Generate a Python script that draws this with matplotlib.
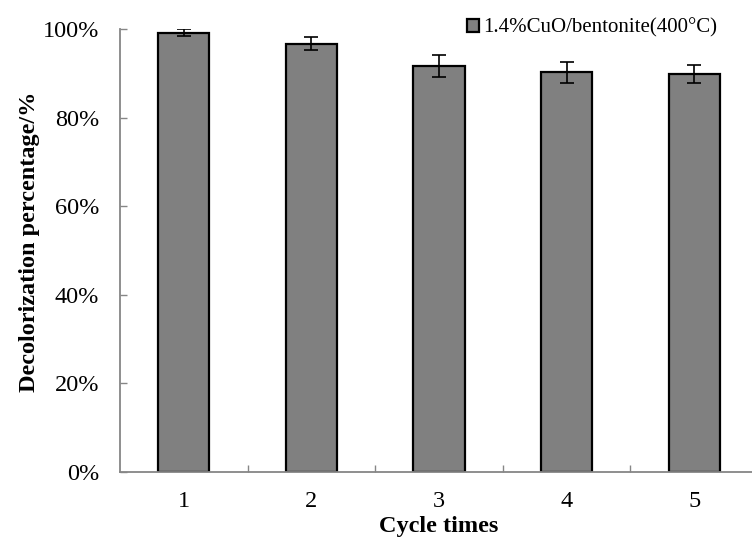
import matplotlib
matplotlib.use("Agg")
import matplotlib.pyplot as plt
import numpy as np
from matplotlib.ticker import FixedLocator, PercentFormatter

plt.rcParams["font.family"] = ["Liberation Serif", "DejaVu Serif"]
plt.rcParams["mathtext.fontset"] = "stix"

cycles = ["1", "2", "3", "4", "5"]
decolorization = [99.2, 96.7, 91.7, 90.2, 89.8]
errors = [0.8, 1.4, 2.45, 2.4, 2.1]
series_name = "1.4%CuO/bentonite(400\u00b0C)"

axis_grey = "#868686"
text_size = 17.5

fig = plt.figure(figsize=(7.52, 5.38), dpi=100)
ax = fig.add_axes([0.1596, 0.1227, 0.8484, 0.8234])

x = np.arange(1, len(cycles) + 1)
ax.bar(
    x,
    decolorization,
    width=0.4,
    color="#808080",
    edgecolor="black",
    linewidth=1.6,
    label=series_name,
    zorder=2,
)
ax.errorbar(
    x,
    decolorization,
    yerr=errors,
    fmt="none",
    ecolor="black",
    elinewidth=1.2,
    capsize=5,
    capthick=1.2,
    zorder=3,
)

ax.set_xlim(0.5, 5.5)
ax.set_ylim(0, 100)
ax.set_xticks(x)
ax.set_xticklabels(cycles)
ax.xaxis.set_minor_locator(FixedLocator([1.5, 2.5, 3.5, 4.5]))
ax.set_yticks(np.arange(0, 101, 20))
ax.yaxis.set_major_formatter(PercentFormatter(decimals=0))

ax.tick_params(axis="x", which="major", length=0, pad=14, labelsize=text_size)
ax.tick_params(axis="x", which="minor", direction="in", length=5,
               color=axis_grey, width=1)
ax.tick_params(axis="y", direction="in", length=5, color=axis_grey,
               width=1, pad=15, labelsize=text_size)

for side in ["top", "right"]:
    ax.spines[side].set_visible(False)
for side in ["left", "bottom"]:
    ax.spines[side].set_color(axis_grey)
    ax.spines[side].set_linewidth(1.3)

ax.set_xlabel("Cycle times", fontsize=text_size, fontweight="bold",
              labelpad=2.5)
ax.set_ylabel("Decolorization percentage/%", fontsize=text_size,
              fontweight="bold", labelpad=2, y=0.52)

fig.legend(
    loc="center right",
    bbox_to_anchor=(0.965, 0.948),
    frameon=False,
    fontsize=15,
    handlelength=0.6,
    handleheight=0.6,
    handletextpad=0.2,
    borderaxespad=0,
)

fig.savefig("out.png", dpi=100)
